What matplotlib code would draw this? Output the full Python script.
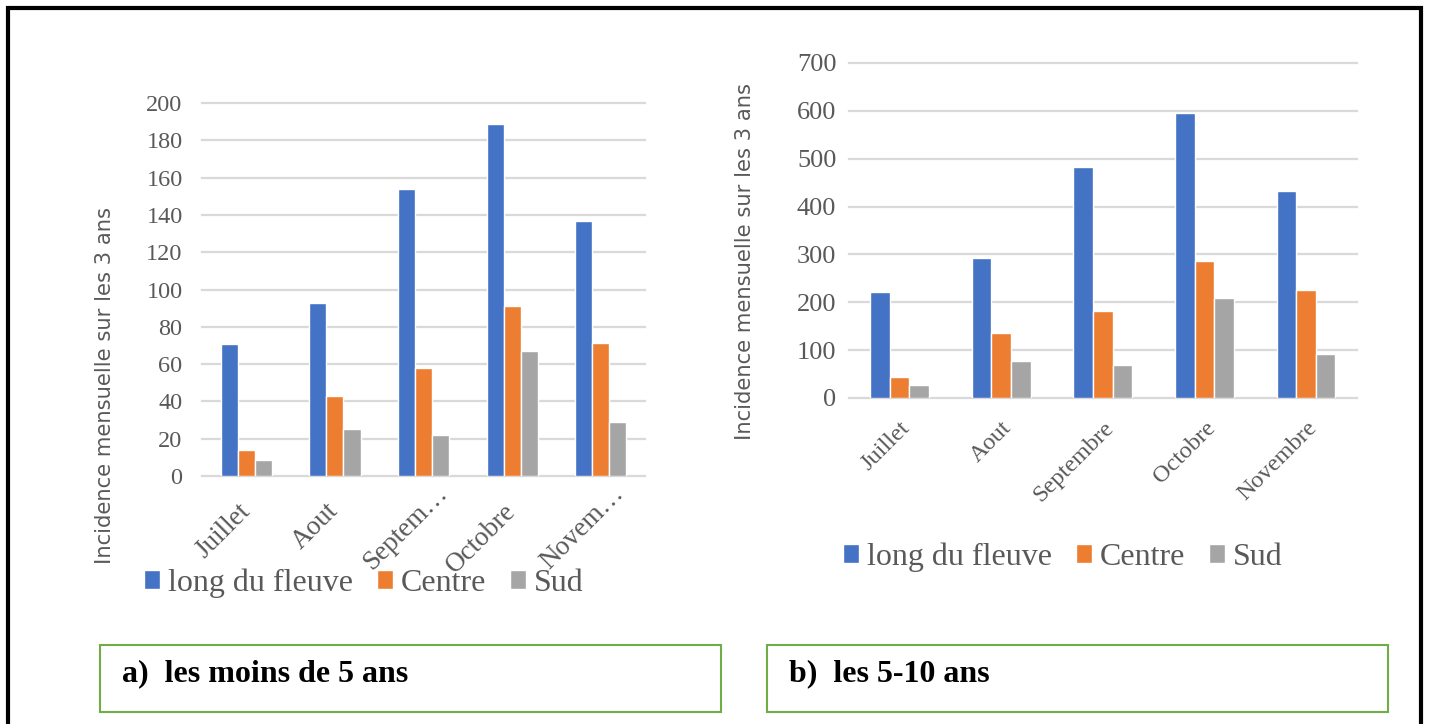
import numpy as np
import matplotlib
matplotlib.use("Agg")
import matplotlib.pyplot as plt
from matplotlib.patches import Rectangle
from matplotlib.transforms import ScaledTranslation

# mois (les libellés tronqués viennent du graphique de gauche)
mois_a = ["Juillet", "Aout", "Septem…", "Octobre", "Novem…"]
mois_b = ["Juillet", "Aout", "Septembre", "Octobre", "Novembre"]
series = ["long du fleuve", "Centre", "Sud"]
couleurs = ["#4472C4", "#ED7D31", "#A5A5A5"]

# a) les moins de 5 ans
fleuve_a = [71, 93, 154, 189, 137]
centre_a = [14, 43, 58, 91, 71.5]
sud_a = [8.5, 25, 22, 67, 29]

# b) les 5-10 ans
fleuve_b = [222, 292, 482, 595, 432]
centre_b = [44, 135, 182, 287, 225]
sud_b = [27, 78, 69, 209, 91]

serif = "Liberation Serif"
gris = "#595959"

fig = plt.figure(figsize=(14.29, 7.24), dpi=100)


def trace(ax, mois, valeurs, ymax, pas, pad, ytaille, xpad, xtaille):
    x = np.arange(len(mois))
    w = 1 / 5.19
    for k, (v, c, nom) in enumerate(zip(valeurs, couleurs, series)):
        ax.bar(x + (k - 1) * w, v, w, color=c, edgecolor="white", linewidth=1,
               label=nom, zorder=3)
    ax.set_xlim(-0.5, len(mois) - 0.5)
    ax.set_ylim(0, ymax)
    ax.set_yticks(np.arange(0, ymax + 1, pas))
    ax.yaxis.grid(True, color="#D9D9D9", linewidth=1.6, zorder=0)
    for gl in ax.get_ygridlines():
        gl.set_clip_on(False)
    for s in ax.spines.values():
        s.set_visible(False)
    ax.tick_params(axis="both", length=0, labelcolor=gris)
    ax.tick_params(axis="y", pad=pad)
    ax.tick_params(axis="x", pad=xpad)
    ax.set_xticks(x)
    ax.set_xticklabels(mois, rotation=45, ha="right", va="top",
                       rotation_mode="anchor", fontsize=xtaille, family=serif)
    for t in ax.get_yticklabels():
        t.set_fontsize(ytaille)
        t.set_family(serif)


ax1 = fig.add_axes([0.1414, 0.3425, 0.310, 0.5152])
trace(ax1, mois_a, [fleuve_a, centre_a, sud_a], 200, 20, 14, 17.5, 12, 19.5)
# petit décalage des libellés (ceux tronqués sont placés plus à droite)
for t in ax1.get_xticklabels():
    dx, dy = (11, 12) if t.get_text().endswith("…") else (-9, -6)
    t.set_transform(t.get_transform() +
                    ScaledTranslation(dx / 100, dy / 100, fig.dpi_scale_trans))

ax2 = fig.add_axes([0.594, 0.4503, 0.3555, 0.4627])
trace(ax2, mois_b, [fleuve_b, centre_b, sud_b], 700, 100, 9, 19, 14, 17.5)

fig.text(0.0735, 1 - 385 / 724, "Incidence mensuelle sur les 3 ans", rotation=90,
         ha="center", va="center", fontsize=15.2, color=gris)
fig.text(0.5213, 1 - 262 / 724, "Incidence mensuelle sur les 3 ans", rotation=90,
         ha="center", va="center", fontsize=15.2, color=gris)

h, l = ax1.get_legend_handles_labels()
for cx, cy in [(364, 583), (1063, 557)]:
    fig.legend(h, l, loc="center", bbox_to_anchor=(cx / 1429, 1 - cy / 724),
               ncol=3, frameon=False, handlelength=0.5, handleheight=0.5,
               handletextpad=0.25, columnspacing=0.75,
               prop={"family": serif, "size": 23}, labelcolor=gris)

# cadres des légendes a) et b)
for x0, txt in [(100, "a)  les moins de 5 ans"), (767, "b)  les 5-10 ans")]:
    fig.patches.append(Rectangle((x0 / 1429, 1 - 712 / 724), 621 / 1429, 67 / 724,
                                 transform=fig.transFigure, fill=False,
                                 edgecolor="#70AD47", linewidth=1.5))
    fig.text((x0 + 22) / 1429, 1 - 674 / 724, txt, ha="left", va="center",
             fontsize=23, fontweight="bold", family=serif, color="black")

# bordure noire
fig.patches.append(Rectangle((8 / 1429, -0.05), 1413 / 1429, 1.039,
                             transform=fig.transFigure, fill=False,
                             edgecolor="black", linewidth=3))

fig.savefig("out.png", dpi=100)
